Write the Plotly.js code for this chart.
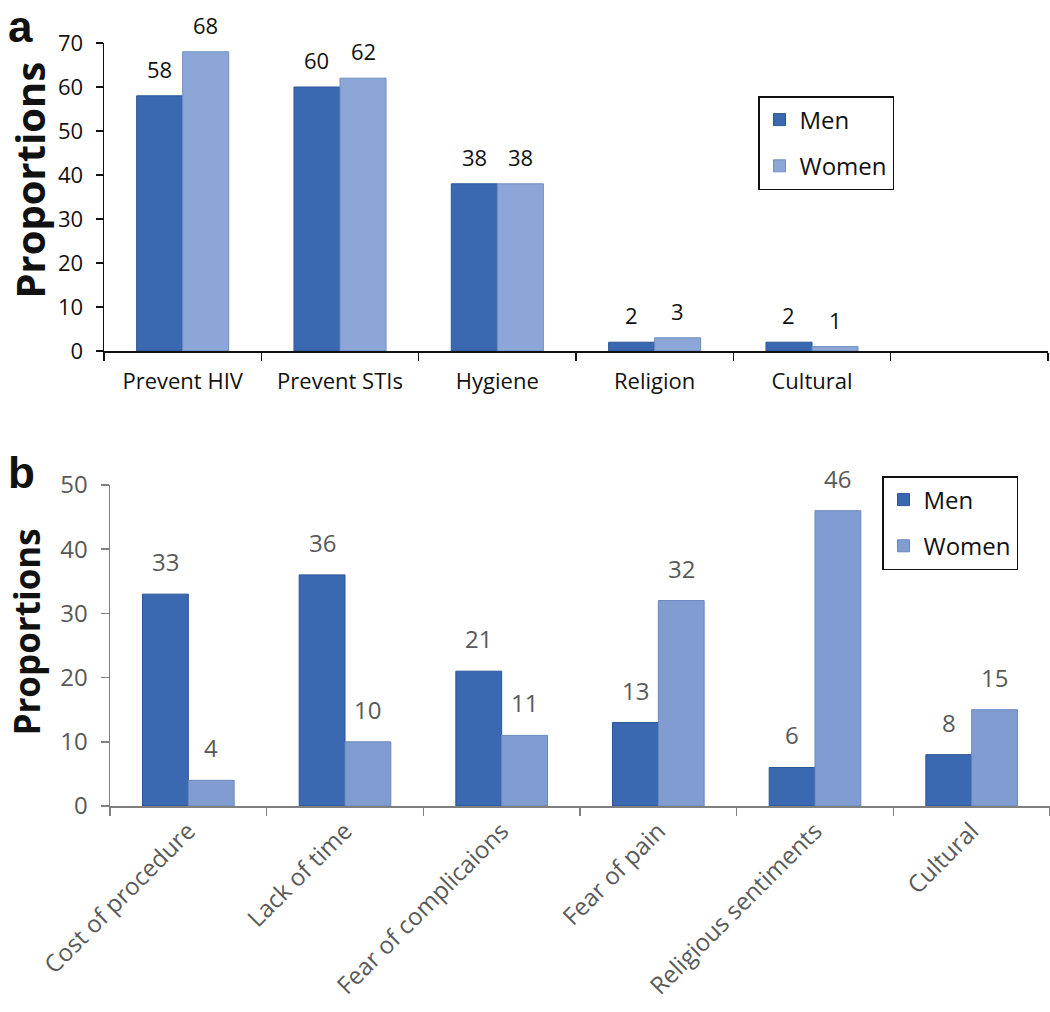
<!DOCTYPE html>
<html>
<head>
<meta charset="utf-8">
<script src="https://cdn.plot.ly/plotly-3.0.1.min.js"></script>
<style>html,body{margin:0;padding:0;background:#fff}#chart{width:1050px;height:1012px}</style>
</head>
<body>
<div id="chart"></div>
<script>
// Panel a: reasons for circumcision
const catsA = ["Prevent HIV", "Prevent STIs", "Hygiene", "Religion", "Cultural", " "];
const menA = [58, 60, 38, 2, 2, null];
const womenA = [68, 62, 38, 3, 1, null];
// Panel b: reasons against circumcision
const catsB = ["Cost of procedure", "Lack of time", "Fear of complicaions", "Fear of pain", "Religious sentiments", "Cultural"];
const menB = [33, 36, 21, 13, 6, 8];
const womenB = [4, 10, 11, 32, 46, 15];
const ticksA = [0, 10, 20, 30, 40, 50, 60, 70];
const ticksB = [0, 10, 20, 30, 40, 50];

const FONT = "Open Sans, Noto Sans, sans-serif";
const MEN = "#3a69b2";
const WOMEN_A = "#8ca7d7";
const WOMEN_B = "#809cd1";
const GRAY = "#595959";
const W = 1050, H = 1012;

// geometry (styles only)
const domA = [104/W, 1048/W], domB = [110/W, 1050/W];
const gapA = 0.415, gapB = 0.42;
const halfBarA = (domA[1]-domA[0])*W/catsA.length*(1-gapA)/4;
const halfBarB = (domB[1]-domB[0])*W/catsB.length*(1-gapB)/4;

const traces = [
  {type:"bar", x:catsA, y:menA, name:"Men", xaxis:"x", yaxis:"y", legend:"legend", legendgroup:"a1",
   marker:{color:MEN, line:{color:"#2c5597", width:1}}, offsetgroup:"m"},
  {type:"bar", x:catsA, y:womenA, name:"Women", xaxis:"x", yaxis:"y", legend:"legend", legendgroup:"a2",
   marker:{color:WOMEN_A, line:{color:"#6f8cc0", width:1}}, offsetgroup:"w"},
  {type:"bar", x:catsB, y:menB, name:"Men", xaxis:"x2", yaxis:"y2", legend:"legend2", legendgroup:"b1",
   marker:{color:MEN, line:{color:"#2c5597", width:1}}, offsetgroup:"m"},
  {type:"bar", x:catsB, y:womenB, name:"Women", xaxis:"x2", yaxis:"y2", legend:"legend2", legendgroup:"b2",
   marker:{color:WOMEN_B, line:{color:"#6a88bf", width:1}}, offsetgroup:"w"}
];

// value labels placed through the data scales
const labels = [];
function addLabels(cats, vals, xr, yr, shift, color, size, ysh){
  cats.forEach((c, i) => {
    if (vals[i] === null) return;
    labels.push({xref:xr, yref:yr, x:c, y:vals[i], text:String(vals[i]), showarrow:false,
      xanchor:"center", yanchor:"bottom", xshift:shift, yshift:ysh,
      font:{family:FONT, size:size, color:color}});
  });
}
addLabels(catsA, menA, "x", "y", -halfBarA, "#111", 22, 10);
addLabels(catsA, womenA, "x", "y", halfBarA, "#111", 22, 10);
addLabels(catsB, menB, "x2", "y2", -halfBarB, GRAY, 24, 14);
addLabels(catsB, womenB, "x2", "y2", halfBarB, GRAY, 24, 14);

const layout = {
  width:W, height:H,
  margin:{l:0, r:0, t:0, b:0},
  paper_bgcolor:"#fff", plot_bgcolor:"#fff",
  barmode:"group", bargap:gapA, bargroupgap:0,
  showlegend:true,
  font:{family:FONT, size:22, color:"#111"},
  xaxis:{domain:domA, anchor:"y", type:"category", categoryorder:"array", categoryarray:catsA,
    showline:true, linecolor:"#111", linewidth:1.5, ticks:"outside", tickson:"boundaries", ticklen:8,
    tickcolor:"#111", tickwidth:1.5, showgrid:false, zeroline:false, ticklabelstandoff:10,
    tickfont:{family:FONT, size:22, color:"#111"}},
  yaxis:{domain:[1-351/H, 1-43/H], anchor:"x", range:[0,70], tickvals:ticksA, ticktext:ticksA.map(String),
    showline:true, linecolor:"#111", linewidth:1.5, ticks:"outside", ticklen:7, tickcolor:"#111", tickwidth:1.5,
    showgrid:false, zeroline:false, tickfont:{family:FONT, size:22, color:"#111"}, ticklabelstandoff:8},
  xaxis2:{domain:domB, anchor:"y2", type:"category", categoryorder:"array", categoryarray:catsB,
    showline:true, linecolor:"#7f7f7f", linewidth:1.5, ticks:"outside", tickson:"boundaries", ticklen:8,
    tickcolor:"#7f7f7f", tickwidth:1.5, showgrid:false, zeroline:false, tickangle:-45,
    tickfont:{family:FONT, size:24, color:GRAY}},
  yaxis2:{domain:[1-806/H, 1-485/H], anchor:"x2", range:[0,50], tickvals:ticksB, ticktext:ticksB.map(String),
    showline:true, linecolor:"#7f7f7f", linewidth:1.5, ticks:"outside", ticklen:8, tickcolor:"#7f7f7f", tickwidth:1.5,
    showgrid:false, zeroline:false, tickfont:{family:FONT, size:24, color:GRAY}, ticklabelstandoff:8},
  legend:{x:758/W, y:1-96/H, xanchor:"left", yanchor:"top", bordercolor:"#111", borderwidth:1.5,
    bgcolor:"#fff", font:{family:FONT, size:24, color:"#111"}, tracegroupgap:12, itemwidth:30},
  legend2:{x:882/W, y:1-476/H, xanchor:"left", yanchor:"top", bordercolor:"#111", borderwidth:1.5,
    bgcolor:"#fff", font:{family:FONT, size:24, color:"#111"}, tracegroupgap:12, itemwidth:30},
  annotations:labels.concat([
    {text:"<b>a</b>", xref:"paper", yref:"paper", x:6/W, y:1, xanchor:"left", yanchor:"top", showarrow:false,
     font:{family:"Liberation Sans, Arial, sans-serif", size:44, color:"#111"}},
    {text:"<b>b</b>", xref:"paper", yref:"paper", x:6/W, y:1-446/H, xanchor:"left", yanchor:"top", showarrow:false,
     font:{family:"Liberation Sans, Arial, sans-serif", size:44, color:"#111"}},
    {text:"<b>Proportions</b>", xref:"paper", yref:"paper", x:0, y:1-180/H, xanchor:"left", yanchor:"middle",
     textangle:-90, showarrow:false, font:{family:FONT, size:40, color:"#111"}},
    {text:"<b>Proportions</b>", xref:"paper", yref:"paper", x:0, y:1-632/H, xanchor:"left", yanchor:"middle",
     textangle:-90, showarrow:false, font:{family:FONT, size:35, color:"#111"}}
  ])
};

Plotly.newPlot("chart", traces, layout, {displayModeBar:false, staticPlot:true});
</script>
</body>
</html>
